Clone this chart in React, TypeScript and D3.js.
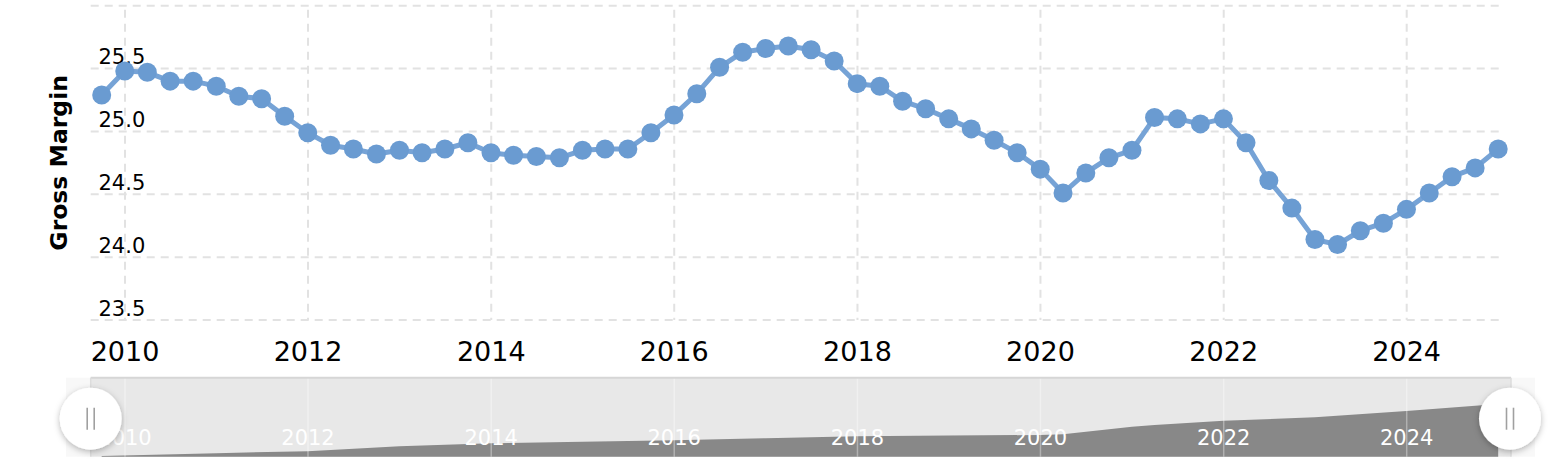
import React from 'react';
import * as d3 from 'd3';

// Quarter-end dates of the Gross Margin series
const quarterDates: string[] = [
  '2009-09-30', '2009-12-31',
  '2010-03-31', '2010-06-30', '2010-09-30', '2010-12-31',
  '2011-03-31', '2011-06-30', '2011-09-30', '2011-12-31',
  '2012-03-31', '2012-06-30', '2012-09-30', '2012-12-31',
  '2013-03-31', '2013-06-30', '2013-09-30', '2013-12-31',
  '2014-03-31', '2014-06-30', '2014-09-30', '2014-12-31',
  '2015-03-31', '2015-06-30', '2015-09-30', '2015-12-31',
  '2016-03-31', '2016-06-30', '2016-09-30', '2016-12-31',
  '2017-03-31', '2017-06-30', '2017-09-30', '2017-12-31',
  '2018-03-31', '2018-06-30', '2018-09-30', '2018-12-31',
  '2019-03-31', '2019-06-30', '2019-09-30', '2019-12-31',
  '2020-03-31', '2020-06-30', '2020-09-30', '2020-12-31',
  '2021-03-31', '2021-06-30', '2021-09-30', '2021-12-31',
  '2022-03-31', '2022-06-30', '2022-09-30', '2022-12-31',
  '2023-03-31', '2023-06-30', '2023-09-30', '2023-12-31',
  '2024-03-31', '2024-06-30', '2024-09-30', '2024-12-31',
];

// Gross margin (%) per quarter
const grossMargin: number[] = [
  25.29, 25.48,
  25.47, 25.40, 25.40, 25.36,
  25.28, 25.26, 25.12, 24.99,
  24.89, 24.86, 24.82, 24.85,
  24.83, 24.86, 24.91, 24.83,
  24.81, 24.80, 24.79, 24.85,
  24.86, 24.86, 24.99, 25.13,
  25.30, 25.51, 25.63, 25.66,
  25.68, 25.65, 25.56, 25.38,
  25.36, 25.24, 25.18, 25.10,
  25.02, 24.93, 24.83, 24.70,
  24.51, 24.67, 24.79, 24.85,
  25.11, 25.10, 25.06, 25.10,
  24.91, 24.61, 24.39, 24.14,
  24.10, 24.21, 24.27, 24.38,
  24.51, 24.64, 24.71, 24.86,
];

// Navigator (overview) series, arbitrary units
const navDates: string[] = [
  '2009-09-30', '2010-12-31', '2011-12-31', '2012-12-31', '2013-12-31',
  '2014-12-31', '2015-12-31', '2016-12-31', '2017-12-31', '2018-12-31',
  '2019-12-31', '2020-03-31', '2020-12-31', '2021-03-31', '2021-12-31',
  '2022-12-31', '2023-12-31', '2024-12-31',
];
const navValues: number[] = [
  0.7, 3.5, 5.5, 10.5, 13.5,
  15, 16.5, 18.5, 20.5, 21.2,
  21.7, 22.5, 30, 31.7, 36,
  39.4, 45.7, 52.7,
];

const yTicks: number[] = [23.5, 24.0, 24.5, 25.0, 25.5, 26.0];
const yLabelTicks: number[] = [23.5, 24.0, 24.5, 25.0, 25.5];
const xTickYears: number[] = [2010, 2012, 2014, 2016, 2018, 2020, 2022, 2024];
const yAxisTitle = 'Gross Margin';

const W = 1556;
const H = 472;
const plotLeft = 90.7;
const plotRight = 1511;
const gridRight = 1501;
const plotTop = 5.7;
const plotBottom = 320;
const navTop = 377.7;
const navBottom = 456.7;

const FONT = "'DejaVu Sans', Verdana, sans-serif";

export default function App() {
  const parse = d3.utcParse('%Y-%m-%d');
  const x = d3
    .scaleUtc()
    .domain([new Date(Date.UTC(2010, 0, 1)), new Date(Date.UTC(2024, 0, 1))])
    .range([125, 1406.7]);
  const y = d3.scaleLinear().domain([23.5, 26.0]).range([plotBottom, plotTop]);
  const navY = d3.scaleLinear().domain([0, 79]).range([navBottom, navTop]);

  const pts = quarterDates.map((d, i) => ({ date: parse(d) as Date, v: grossMargin[i] }));
  const navPts = navDates.map((d, i) => ({ date: parse(d) as Date, v: navValues[i] }));

  const line = d3
    .line<{ date: Date; v: number }>()
    .x((d) => x(d.date))
    .y((d) => y(d.v));
  const navArea = d3
    .area<{ date: Date; v: number }>()
    .x((d) => x(d.date))
    .y0(navBottom)
    .y1((d) => navY(d.v));

  const xTicks = xTickYears.map((yr) => new Date(Date.UTC(yr, 0, 1)));
  const fmt = d3.utcFormat('%Y');
  const handleY = (navTop + navBottom) / 2 + 1.5;

  return (
    <svg
      width={W}
      height={H}
      style={{ position: 'absolute', left: 0, top: 0, background: '#fff' }}
      xmlns="http://www.w3.org/2000/svg"
    >
      <defs>
        <filter id="hshadow" x="-50%" y="-50%" width="200%" height="200%">
          <feDropShadow dx="0" dy="2" stdDeviation="3" floodColor="#000" floodOpacity="0.28" />
        </filter>
      </defs>

      {/* horizontal grid */}
      {yTicks.map((t) => (
        <line
          key={'hg' + t}
          x1={plotLeft}
          x2={gridRight}
          y1={y(t)}
          y2={y(t)}
          stroke="#e2e2e2"
          strokeWidth={2}
          strokeDasharray="8,6"
        />
      ))}
      {/* vertical grid */}
      {xTicks.map((t, i) => (
        <line
          key={'vg' + i}
          x1={x(t)}
          x2={x(t)}
          y1={plotTop + 4}
          y2={plotBottom}
          stroke="#e2e2e2"
          strokeWidth={2}
          strokeDasharray="8,6"
        />
      ))}

      {/* y labels */}
      {yLabelTicks.map((t) => (
        <text
          key={'yl' + t}
          x={98.5}
          y={y(t) - 4.3}
          fontFamily={FONT}
          fontSize={21}
          fill="#000"
        >
          {t.toFixed(1)}
        </text>
      ))}

      {/* y axis title */}
      <text
        transform={`translate(66.5, ${(plotTop + plotBottom) / 2}) rotate(-90)`}
        textAnchor="middle"
        fontFamily={FONT}
        fontWeight="bold"
        fontSize={23.5}
        fill="#000"
      >
        {yAxisTitle}
      </text>

      {/* x labels */}
      {xTicks.map((t, i) => (
        <text
          key={'xl' + i}
          x={x(t)}
          y={361}
          textAnchor="middle"
          fontFamily={FONT}
          fontSize={27}
          fill="#000"
        >
          {fmt(t)}
        </text>
      ))}

      {/* series */}
      <path d={line(pts) || ''} fill="none" stroke="#76a3d6" strokeWidth={5} strokeLinejoin="round" />
      {pts.map((p, i) => (
        <circle key={'p' + i} cx={x(p.date)} cy={y(p.v)} r={9.5} fill="#6a9bd1" />
      ))}

      {/* navigator */}
      <rect x={66} y={navTop} width={plotLeft - 66} height={navBottom - navTop} fill="#f8f8f8" />
      <rect x={plotRight} y={navTop} width={24} height={navBottom - navTop} fill="#f8f8f8" />
      <rect
        x={plotLeft}
        y={navTop}
        width={plotRight - plotLeft}
        height={navBottom - navTop}
        fill="#e8e8e8"
      />
      <path d={navArea(navPts) || ''} fill="#888888" />
      {xTicks.map((t, i) => (
        <line
          key={'ng' + i}
          x1={x(t)}
          x2={x(t)}
          y1={navTop}
          y2={navBottom}
          stroke="#ffffff"
          strokeOpacity={0.35}
          strokeWidth={1.5}
        />
      ))}
      <line x1={plotLeft} x2={plotRight} y1={navTop} y2={navTop} stroke="#d6d6d6" strokeWidth={2} />
      <line x1={plotRight} x2={plotRight} y1={navTop} y2={navBottom} stroke="#dddddd" strokeWidth={1.5} />
      <line x1={plotLeft} x2={plotLeft} y1={navTop} y2={navBottom} stroke="#dddddd" strokeWidth={1.5} />
      {xTicks.map((t, i) => (
        <text
          key={'nl' + i}
          x={x(t)}
          y={445}
          textAnchor="middle"
          fontFamily={FONT}
          fontSize={21}
          fill="#ffffff"
        >
          {fmt(t)}
        </text>
      ))}

      {/* handles */}
      {[plotLeft, 1510].map((hx, i) => (
        <g key={'h' + i}>
          <circle cx={hx} cy={handleY} r={31} fill="#ffffff" filter="url(#hshadow)" />
          <line x1={hx - 3.5} x2={hx - 3.5} y1={handleY - 11} y2={handleY + 11} stroke="#a0a0a0" strokeWidth={1.6} />
          <line x1={hx + 3.5} x2={hx + 3.5} y1={handleY - 11} y2={handleY + 11} stroke="#a0a0a0" strokeWidth={1.6} />
        </g>
      ))}
    </svg>
  );
}
